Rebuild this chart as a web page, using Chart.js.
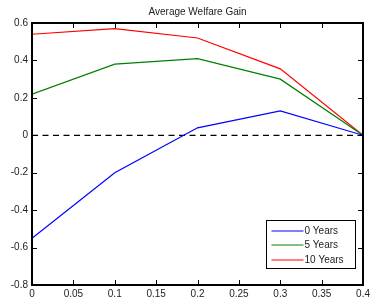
<!DOCTYPE html>
<html><head><meta charset="utf-8">
<script src="https://cdn.jsdelivr.net/npm/chart.js@4"></script>
<style>html,body{margin:0;padding:0;background:#fff}canvas{display:block}</style>
</head><body>
<canvas id="c" width="373" height="299"></canvas>
<script>
const xValues = [0, 0.1, 0.2, 0.3, 0.4];
const years0 = [-0.55, -0.20, 0.04, 0.13, 0.0];
const years5 = [0.22, 0.38, 0.41, 0.30, 0.0];
const years10 = [0.54, 0.57, 0.52, 0.355, 0.0];
const seriesLabels = ['0 Years', '5 Years', '10 Years'];
const titleText = 'Average Welfare Gain';
const FONT = '"Liberation Sans", Arial, sans-serif';

const pts = arr => xValues.map((x, i) => ({x, y: arr[i]}));

const framePlugin = {
  id: 'frame',
  afterDatasetsDraw(chart) {
    const {ctx, chartArea: a, scales: {x, y}} = chart;
    ctx.save();
    // inward ticks
    ctx.strokeStyle = '#000'; ctx.lineWidth = 1;
    const L = 5;
    ctx.beginPath();
    x.ticks.forEach(t => {
      const px = Math.round(x.getPixelForValue(t.value)) + 0.5;
      ctx.moveTo(px, a.bottom); ctx.lineTo(px, a.bottom - L);
      ctx.moveTo(px, a.top); ctx.lineTo(px, a.top + L);
    });
    y.ticks.forEach(t => {
      const py = Math.round(y.getPixelForValue(t.value)) + 0.5;
      ctx.moveTo(a.left, py); ctx.lineTo(a.left + L, py);
      ctx.moveTo(a.right, py); ctx.lineTo(a.right - L, py);
    });
    ctx.stroke();
    // frame
    ctx.lineWidth = 2;
    ctx.strokeRect(Math.round(a.left), Math.round(a.top), Math.round(a.right - a.left), Math.round(a.bottom - a.top));
    // title
    ctx.fillStyle = '#222';
    ctx.font = '10px ' + FONT;
    ctx.textAlign = 'center'; ctx.textBaseline = 'middle';
    ctx.fillText(titleText, (a.left + a.right) / 2, 12);
    // legend
    const bw = 89, bh = 48;
    const bx = Math.round(a.right - 8 - bw) + 0.5, by = Math.round(a.bottom - 17 - bh) + 0.5;
    ctx.fillStyle = '#fff';
    ctx.fillRect(bx, by, bw, bh);
    ctx.lineWidth = 1;
    ctx.strokeStyle = '#000';
    ctx.strokeRect(bx, by, bw, bh);
    ctx.textAlign = 'left';
    for (let i = 0; i < 3; i++) {
      const ds = chart.data.datasets[i];
      const ry = Math.round(by + 10 + i * 14.7);
      ctx.strokeStyle = ds.borderColor;
      ctx.lineWidth = 1.2;
      ctx.beginPath(); ctx.moveTo(bx + 5, ry); ctx.lineTo(bx + 37, ry); ctx.stroke();
      ctx.fillStyle = '#222';
      ctx.fillText(ds.label, bx + 38, ry + 0.5);
    }
    ctx.restore();
  }
};

new Chart(document.getElementById('c'), {
  type: 'line',
  data: {
    datasets: [
      {label: seriesLabels[0], data: pts(years0), borderColor: '#0000ff'},
      {label: seriesLabels[1], data: pts(years5), borderColor: '#008000'},
      {label: seriesLabels[2], data: pts(years10), borderColor: '#ff0000'},
      {label: 'zero', data: [{x: 0, y: 0}, {x: 0.4, y: 0}], borderColor: '#000', borderDash: [6, 4.5]}
    ].map(d => Object.assign({borderWidth: 1.2, pointRadius: 0, tension: 0, fill: false}, d))
  },
  options: {
    responsive: false,
    animation: false,
    layout: {padding: {top: 23, right: 9, left: 0, bottom: 0}},
    plugins: {legend: {display: false}, title: {display: false}, tooltip: {enabled: false}},
    scales: {
      x: {
        type: 'linear', min: 0, max: 0.4,
        ticks: {stepSize: 0.05, color: '#222', font: {family: FONT, size: 10}, padding: 3, maxRotation: 0,
          callback: v => String(+v.toFixed(2))},
        grid: {display: false, drawTicks: false},
        border: {display: false},
        afterFit: s => { s.height = 14; }
      },
      y: {
        min: -0.8, max: 0.6,
        ticks: {stepSize: 0.2, color: '#222', font: {family: FONT, size: 10}, padding: 4,
          callback: v => String(+v.toFixed(1))},
        grid: {display: false, drawTicks: false},
        border: {display: false},
        afterFit: s => { s.width = 32; }
      }
    }
  },
  plugins: [framePlugin]
});
</script>
</body></html>
